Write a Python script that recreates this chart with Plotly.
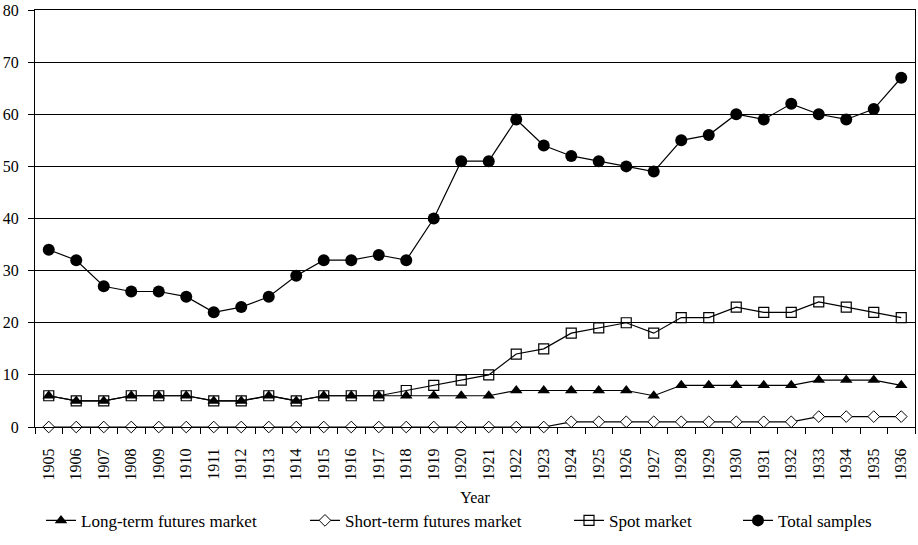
import plotly.graph_objects as go

years = [str(y) for y in range(1905, 1937)]

long_term = [6, 5, 5, 6, 6, 6, 5, 5, 6, 5, 6, 6, 6, 6, 6, 6,
             6, 7, 7, 7, 7, 7, 6, 8, 8, 8, 8, 8, 9, 9, 9, 8]
short_term = [0, 0, 0, 0, 0, 0, 0, 0, 0, 0, 0, 0, 0, 0, 0, 0,
              0, 0, 0, 1, 1, 1, 1, 1, 1, 1, 1, 1, 2, 2, 2, 2]
spot = [6, 5, 5, 6, 6, 6, 5, 5, 6, 5, 6, 6, 6, 7, 8, 9,
        10, 14, 15, 18, 19, 20, 18, 21, 21, 23, 22, 22, 24, 23, 22, 21]
total = [34, 32, 27, 26, 26, 25, 22, 23, 25, 29, 32, 32, 33, 32, 40, 51,
         51, 59, 54, 52, 51, 50, 49, 55, 56, 60, 59, 62, 60, 59, 61, 67]

FONT = 'Liberation Serif, Times New Roman, Times, serif'
line_style = dict(color='black', width=1.2)

fig = go.Figure()
fig.add_trace(go.Scatter(
    x=years, y=long_term, name='Long-term futures market', mode='lines+markers',
    line=line_style, legend='legend',
    marker=dict(symbol='triangle-up', size=11, color='black'),
))
fig.add_trace(go.Scatter(
    x=years, y=short_term, name='Short-term futures market', mode='lines+markers',
    line=line_style, legend='legend2',
    marker=dict(symbol='diamond', size=9, color='white',
                line=dict(color='black', width=1)),
))
fig.add_trace(go.Scatter(
    x=years, y=spot, name='Spot market', mode='lines+markers',
    line=line_style, legend='legend3',
    marker=dict(symbol='square-open', size=10, color='black',
                line=dict(width=1.2)),
))
fig.add_trace(go.Scatter(
    x=years, y=total, name='Total samples', mode='lines+markers',
    line=line_style, legend='legend4',
    marker=dict(symbol='circle', size=12, color='black'),
))
fig.update_traces(cliponaxis=False)

ML, PW = 35, 880

# one legend per series so the entries sit where the reference has them
leg = dict(orientation='h', yanchor='middle', y=-0.225, xanchor='left',
           bgcolor='rgba(0,0,0,0)', font=dict(family=FONT, size=17, color='black'))
fig.update_layout(
    legend=dict(leg, x=(41 - ML) / PW),
    legend2=dict(leg, x=(305 - ML) / PW),
    legend3=dict(leg, x=(569 - ML) / PW),
    legend4=dict(leg, x=(738 - ML) / PW),
)

fig.update_layout(
    width=918,
    height=545,
    margin=dict(l=ML, r=3, t=10, b=118),
    paper_bgcolor='white',
    plot_bgcolor='white',
    font=dict(family=FONT, size=16, color='black'),
    showlegend=True,
    xaxis=dict(
        type='category',
        range=[-0.5, len(years) - 0.5],
        tickangle=-90,
        tickson='boundaries',
        ticks='outside',
        ticklen=6,
        ticklabelstandoff=14,
        tickcolor='black',
        showline=True,
        linecolor='black',
        linewidth=1,
        mirror=True,
        showgrid=False,
        title=dict(text='Year', standoff=12, font=dict(family=FONT, size=16)),
        tickfont=dict(family=FONT, size=16),
    ),
    yaxis=dict(
        range=[0, 80],
        dtick=10,
        ticks='outside',
        ticklen=6,
        ticklabelstandoff=6,
        tickcolor='black',
        showline=True,
        linecolor='black',
        linewidth=1,
        mirror=True,
        showgrid=True,
        gridcolor='black',
        gridwidth=1,
        zeroline=False,
        tickfont=dict(family=FONT, size=16),
    ),
)

# drop the default page margin so the figure sits flush in the window
fig.write_html('out.html', config={'displayModeBar': False},
               post_script="document.body.style.margin = '0';")
